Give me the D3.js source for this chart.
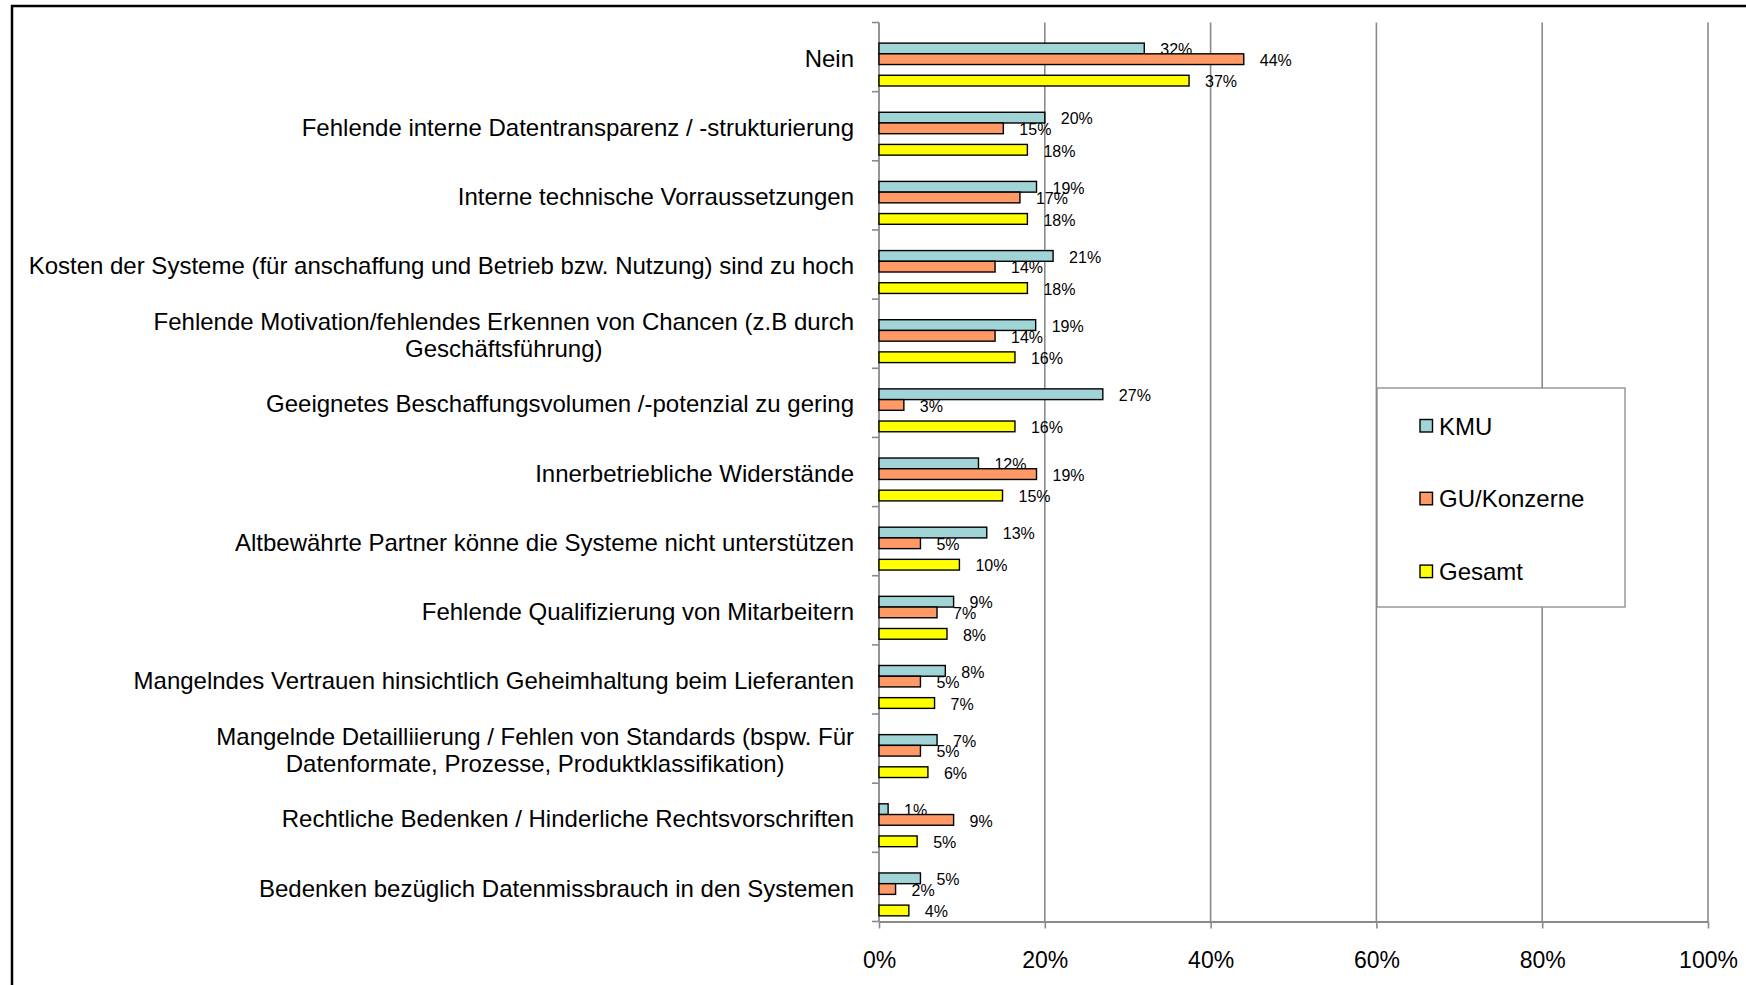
<!DOCTYPE html>
<html>
<head>
<meta charset="utf-8">
<script src="https://cdn.jsdelivr.net/npm/d3@7"></script>
<style>
  html, body { margin: 0; padding: 0; background: #fff; }
  svg { display: block; font-family: Arial, "Liberation Sans", sans-serif; }
</style>
</head>
<body>
<div id="chart"></div>
<script>
// categories top to bottom; "\n" marks a line break in the label
const categories = [
  "Nein",
  "Fehlende interne Datentransparenz / -strukturierung",
  "Interne technische Vorraussetzungen",
  "Kosten der Systeme (für anschaffung und Betrieb bzw. Nutzung) sind zu hoch",
  "Fehlende Motivation/fehlendes Erkennen von Chancen (z.B durch\nGeschäftsführung)",
  "Geeignetes Beschaffungsvolumen /-potenzial zu gering",
  "Innerbetriebliche Widerstände",
  "Altbewährte Partner könne die Systeme nicht unterstützen",
  "Fehlende Qualifizierung von Mitarbeitern",
  "Mangelndes Vertrauen hinsichtlich Geheimhaltung beim Lieferanten",
  "Mangelnde Detailliierung / Fehlen von Standards (bspw. Für\nDatenformate, Prozesse, Produktklassifikation)",
  "Rechtliche Bedenken / Hinderliche Rechtsvorschriften",
  "Bedenken bezüglich Datenmissbrauch in den Systemen"
];
const seriesNames = ["KMU", "GU/Konzerne", "Gesamt"];
const kmu    = [32, 20, 19, 21, 18.9, 27, 12, 13, 9, 8, 7, 1.1, 5];
const gu     = [44, 15, 17, 14, 14, 3, 19, 5, 7, 5, 5, 9, 2];
const gesamt = [37.4, 17.9, 17.9, 17.9, 16.4, 16.4, 14.9, 9.7, 8.2, 6.7, 5.9, 4.6, 3.6];
const xTicks = [0, 20, 40, 60, 80, 100];
const colors = ["#a0d4d6", "#ff9966", "#ffff00"];

const W = 1746, H = 985;
const svg = d3.select('#chart').append('svg').attr('width', W).attr('height', H);

// outer frame (runs off the right and bottom edge)
svg.append('rect').attr('x', 12).attr('y', 6).attr('width', 1800).attr('height', 1100)
  .attr('fill', 'none').attr('stroke', '#000').attr('stroke-width', 2.5);

const x = d3.scaleLinear().domain([0, 100]).range([879, 1708]);
const y = d3.scaleBand().domain(categories).range([22.5, 921.5]);
const bw = y.bandwidth();
// slot between GU and Gesamt stays empty, like in the original
const sub = d3.scaleBand().domain(["KMU", "GU/Konzerne", "_", "Gesamt"]).range([bw * 0.298, bw * 0.918]);

// grid lines
svg.append('g').selectAll('line').data(xTicks.slice(1)).join('line')
  .attr('x1', d => x(d)).attr('x2', d => x(d))
  .attr('y1', 22.5).attr('y2', 921.5)
  .attr('stroke', '#8a8a8a').attr('stroke-width', 1.6);

// bottom axis
const xAxis = svg.append('g').attr('transform', 'translate(0,921.5)')
  .call(d3.axisBottom(x).tickValues(xTicks).tickFormat(d => d + '%').tickSize(7).tickPadding(23).tickSizeOuter(0));
xAxis.select('.domain').attr('stroke', '#8a8a8a').attr('stroke-width', 1.8);
xAxis.selectAll('.tick line').attr('stroke', '#8a8a8a').attr('stroke-width', 1.6);
xAxis.selectAll('.tick text').attr('font-size', 23).attr('fill', '#000')
  .attr('font-family', 'Arial, "Liberation Sans", sans-serif');

// left axis with ticks at category boundaries
const bounds = categories.map(c => y(c)).concat([y.range()[1]]);
svg.append('line').attr('x1', x(0)).attr('x2', x(0)).attr('y1', 22.5).attr('y2', 921.5)
  .attr('stroke', '#8a8a8a').attr('stroke-width', 1.8);
svg.append('g').selectAll('line').data(bounds).join('line')
  .attr('x1', x(0) - 7).attr('x2', x(0)).attr('y1', d => d).attr('y2', d => d)
  .attr('stroke', '#8a8a8a').attr('stroke-width', 1.6);

// category labels: block right-aligned, lines centred on each other
const labelRight = 854;
categories.forEach(c => {
  const lines = c.split('\n');
  const cy = y(c) + bw / 2 + 1;
  const g = svg.append('g');
  const texts = lines.map((ln, i) => g.append('text')
    .attr('y', cy + (i - (lines.length - 1) / 2) * 27)
    .attr('dy', '0.36em')
    .attr('font-size', 24).attr('fill', '#000')
    .attr('text-anchor', 'middle').text(ln));
  const maxW = d3.max(texts, t => t.node().getComputedTextLength());
  texts.forEach(t => t.attr('x', labelRight - maxW / 2));
});

// bars and value labels, series by series
const seriesData = [kmu, gu, gesamt];
seriesData.forEach((vals, si) => {
  const name = seriesNames[si];
  const g = svg.append('g');
  g.selectAll('rect').data(vals).join('rect')
    .attr('x', x(0))
    .attr('y', (d, i) => y(categories[i]) + sub(name))
    .attr('width', d => x(d) - x(0))
    .attr('height', sub.bandwidth())
    .attr('fill', colors[si]).attr('stroke', '#000').attr('stroke-width', 1.4);
  g.selectAll('text').data(vals).join('text')
    .attr('x', d => x(d) + 16)
    .attr('y', (d, i) => y(categories[i]) + sub(name) + sub.bandwidth() / 2 + 1)
    .attr('dy', '0.36em')
    .attr('font-size', 16).attr('fill', '#000')
    .text(d => Math.round(d) + '%');
});

// legend
const lg = svg.append('g');
lg.append('rect').attr('x', 1377).attr('y', 388).attr('width', 248).attr('height', 219)
  .attr('fill', '#fff').attr('stroke', '#8a8a8a').attr('stroke-width', 1.3);
seriesNames.forEach((n, i) => {
  const cy = 426 + i * 72.8;
  lg.append('rect').attr('x', 1420).attr('y', cy - 6.5).attr('width', 12.5).attr('height', 12.5)
    .attr('fill', colors[i]).attr('stroke', '#000').attr('stroke-width', 1.4);
  lg.append('text').attr('x', 1439).attr('y', cy).attr('dy', '0.36em')
    .attr('font-size', 24).attr('fill', '#000').text(n);
});
</script>
</body>
</html>
